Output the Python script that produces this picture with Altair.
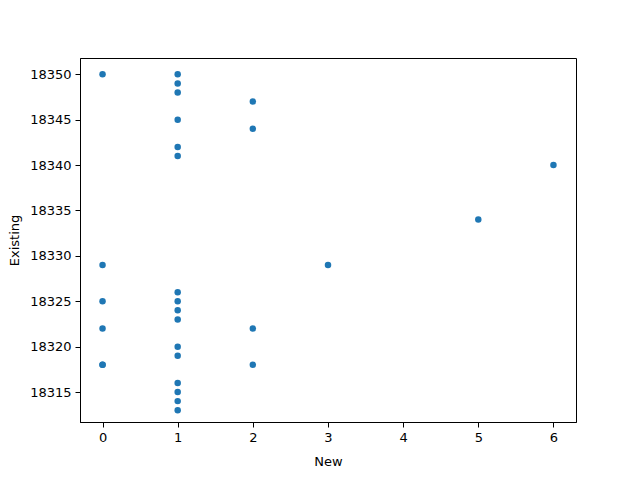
import altair as alt
import pandas as pd

new_vals = [0, 0, 0, 0, 0, 0,
            1, 1, 1, 1, 1, 1, 1, 1, 1, 1, 1, 1, 1, 1, 1, 1,
            2, 2, 2, 2,
            3, 5, 6]
existing_vals = [18350, 18329, 18325, 18322, 18318, 18318,
                 18350, 18349, 18348, 18345, 18342, 18341, 18326, 18325, 18324, 18323, 18320, 18319, 18316, 18315, 18314, 18313,
                 18347, 18344, 18322, 18318,
                 18329, 18334, 18340]

df = pd.DataFrame({"New": new_vals, "Existing": existing_vals})

axis_common = dict(
    domainColor="black", tickColor="black", labelColor="black", titleColor="black",
    labelFont="DejaVu Sans", titleFont="DejaVu Sans",
    labelFontSize=13, titleFontSize=13, titleFontWeight="normal",
    tickSize=5, labelPadding=4, grid=False, domainWidth=1, tickWidth=1,
)

chart = alt.Chart(df).mark_circle(size=42, opacity=1, color="#1f77b4").encode(
    x=alt.X("New:Q", scale=alt.Scale(domain=[-0.3, 6.3], nice=False, zero=False),
            axis=alt.Axis(values=[0, 1, 2, 3, 4, 5, 6], format="d", titlePadding=11, **axis_common)),
    y=alt.Y("Existing:Q", scale=alt.Scale(domain=[18311.7, 18351.8], nice=False, zero=False),
            axis=alt.Axis(values=[18315, 18320, 18325, 18330, 18335, 18340, 18345, 18350],
                          format="d", titlePadding=8, **axis_common)),
).properties(
    width=496, height=364,
    autosize=alt.AutoSizeParams(type="none"),
    padding={"left": 72, "top": 50, "right": 56, "bottom": 50},
).configure_view(stroke="black", strokeWidth=1)

chart.save("out.html", embed_options={"renderer": "svg", "actions": False})
